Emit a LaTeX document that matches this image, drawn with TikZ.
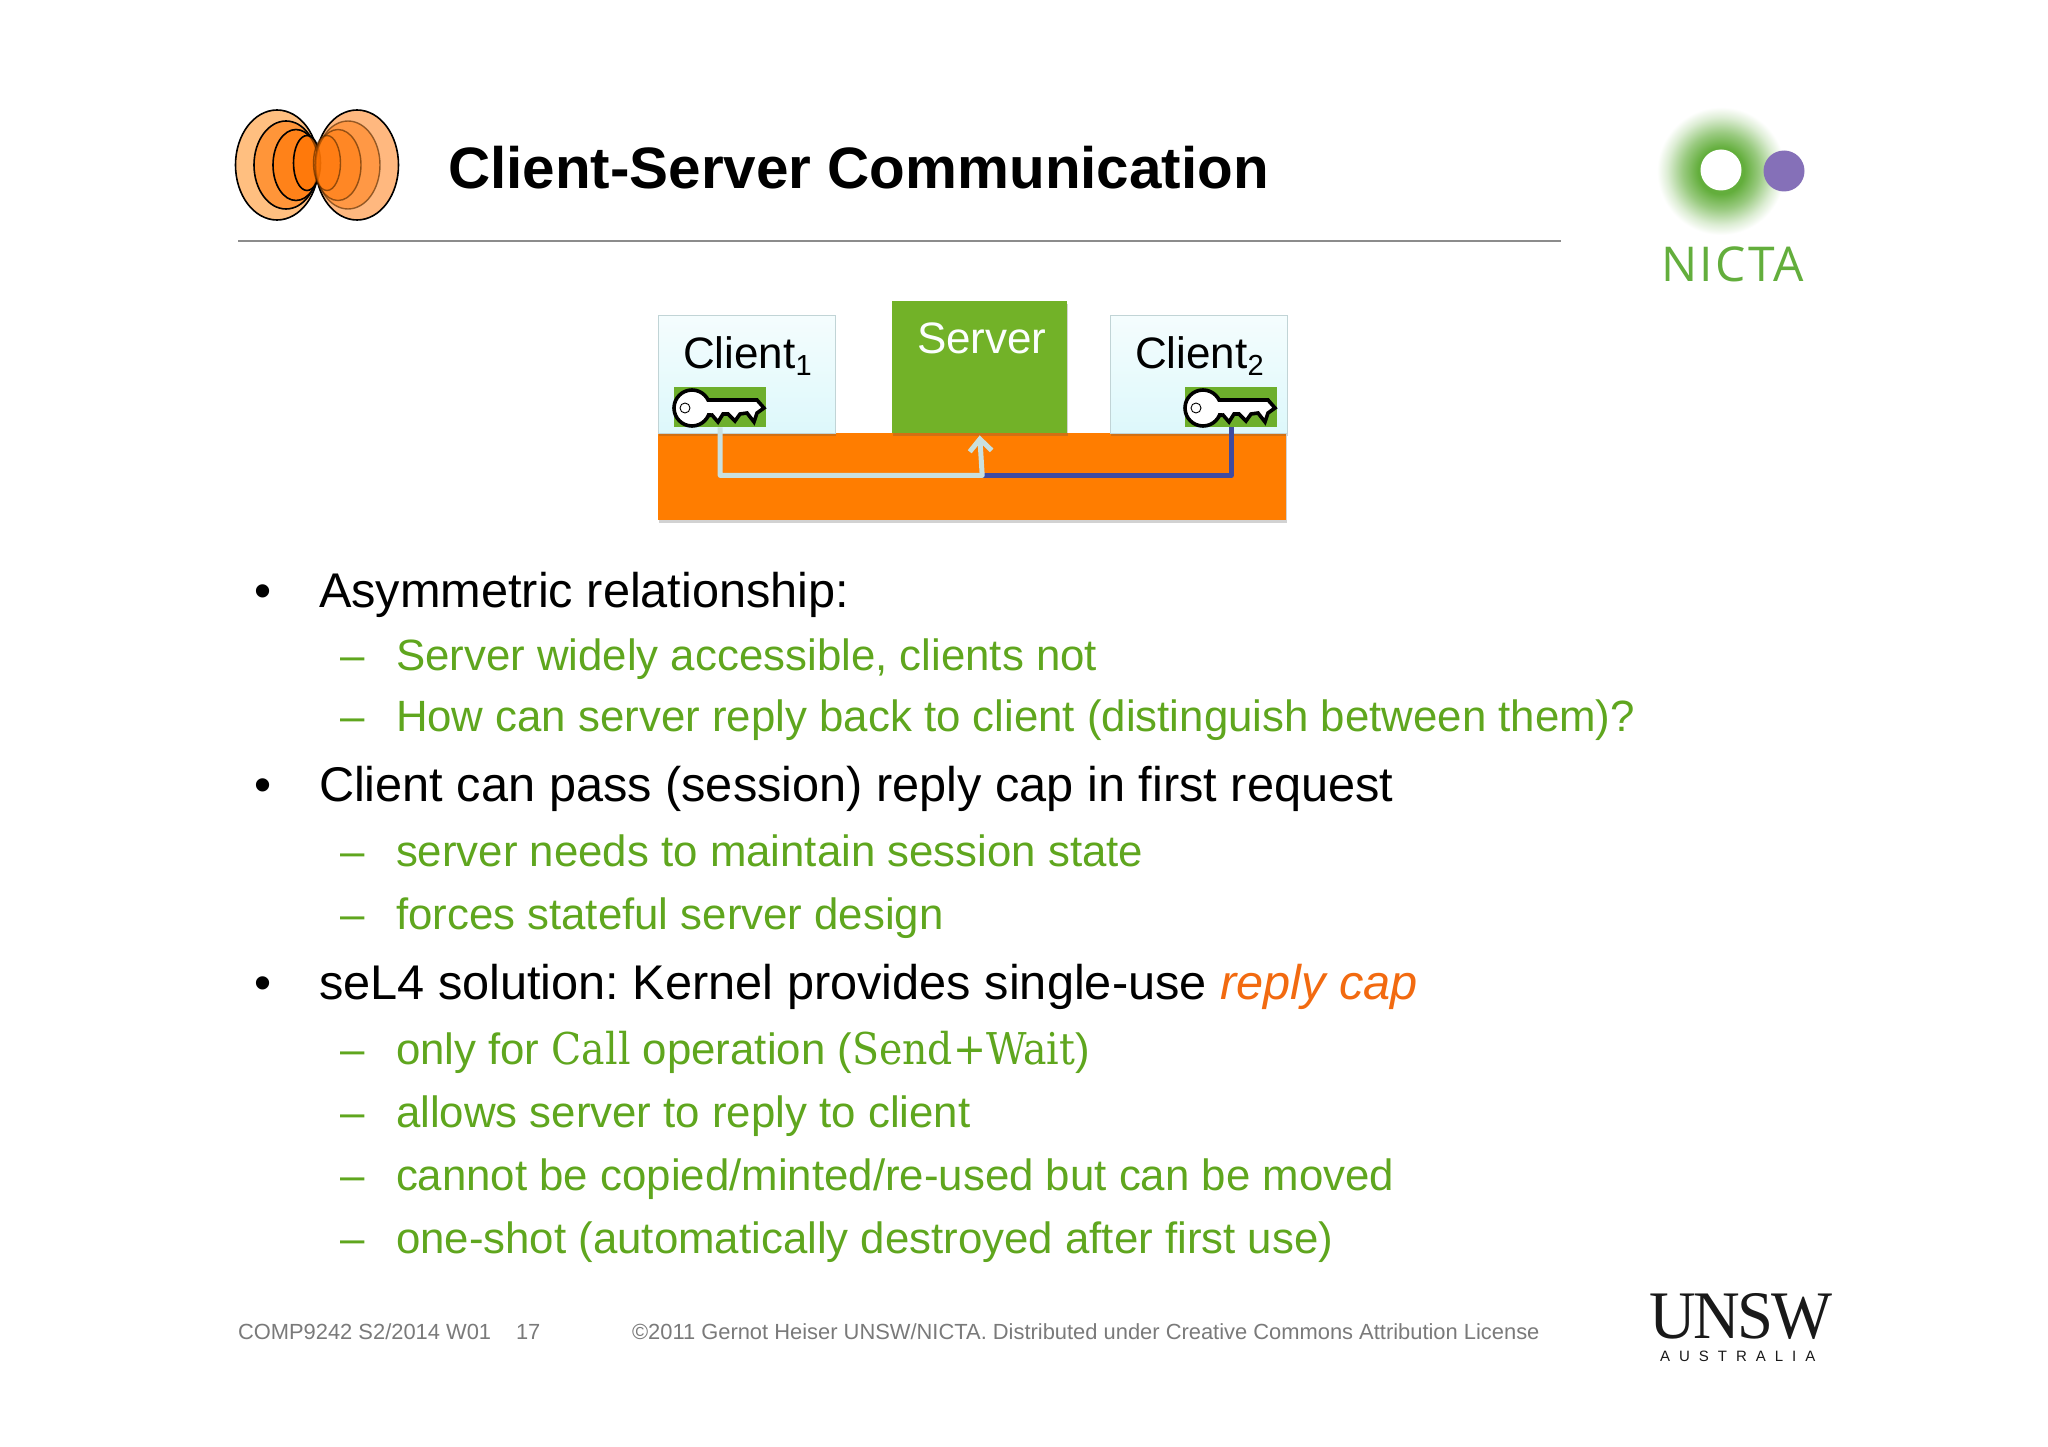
\documentclass[tikz,border=0pt]{standalone}
\usepackage{fontspec}
\setmainfont{Liberation Sans}
\frenchspacing
\newfontfamily\serifF{Liberation Serif}
\newfontfamily\nictaF{Open Sans}
\newfontfamily\monoF{DejaVu Serif}[FakeStretch=0.9]
\usetikzlibrary{shadows,arrows.meta,calc}
\definecolor{sgreen}{HTML}{5FA61E}
\definecolor{boxgreen}{HTML}{72B228}
\definecolor{kgreen}{HTML}{6DAF2C}
\definecolor{orbar}{HTML}{FF7D00}
\definecolor{lcyan}{HTML}{DDF8FB}
\definecolor{conn}{HTML}{C9E0DF}
\definecolor{bluec}{HTML}{3F4BA0}
\definecolor{nic}{HTML}{63AE3C}
\definecolor{pur}{HTML}{8570B8}
\definecolor{gtxt}{HTML}{7A7A7A}
\definecolor{rep}{HTML}{F26A10}
\pgfdeclareradialshading{glow}{\pgfpointorigin}{color(0bp)=(nic); color(9bp)=(nic); color(15bp)=(nic!65!white); color(21bp)=(nic!22!white); color(25bp)=(white); color(50bp)=(white)}
\tikzset{
  x=1pt,y=-1pt,
  shad/.style={drop shadow={shadow xshift=1pt,shadow yshift=-2.5pt,opacity=.25,fill=black!70}},
  client/.style={draw=lcyan!70!gray,line width=.8pt,top color=white!70!lcyan,bottom color=lcyan,shad,minimum width=177pt,minimum height=118pt,inner sep=0pt,anchor=north west},
  txt/.style={anchor=base west,inner sep=0pt,outer sep=0pt},
  main/.style={txt,font=\fontsize{48.7}{49}\selectfont},
  sub/.style={txt,font=\fontsize{43.8}{44}\selectfont,text=sgreen},
  foot/.style={txt,font=\fontsize{21.9}{22}\selectfont,text=gtxt},
  el/.style={draw=black,line width=1.6pt,fill=orange!90!red,fill opacity=.55},
  er/.style={draw=black!70!orange,line width=1.4pt,draw opacity=.6,fill=orange!90!red,fill opacity=.45},
  keybg/.style={fill=kgreen,minimum width=92pt,minimum height=40pt,inner sep=0pt,anchor=north west},
  pics/keyicon/.style={code={
    \draw[line width=3.6pt,fill=white,line join=miter]
      (10,-8) -- (65,-8) -- (72,0) -- (65,5) -- (62,14) -- (55,5) -- (48,6) -- (43,13) -- (36,6) -- (31,6) -- (26,14) -- (20,7) -- (10,9) -- cycle;
    \draw[line width=3.6pt,fill=white] (0,0) circle (18);
    \fill[white] (8,-6) rectangle (20,5);
    \draw[line width=.9pt,fill=white] (-7,0) circle (5);
  }}
}
\begin{document}
\begin{tikzpicture}
\useasboundingbox (0,0) rectangle (2048,1447);
\fill[white] (0,0) rectangle (2048,1447);
% left logo
\fill[orange!50!white,draw=black,line width=1.6pt] (277,165) ellipse (41.5 and 55);
\draw[el] (286,165) ellipse (32 and 44);
\draw[el] (296,165) ellipse (23 and 35.5);
\draw[el] (307,163) ellipse (13.5 and 27.5);
\draw[draw=black,line width=1.6pt,fill=orange!90!red,fill opacity=.5] (357,165) ellipse (41.5 and 55);
\draw[er] (348,165) ellipse (32 and 44);
\draw[er] (338,165) ellipse (23 and 35.5);
\draw[er] (327,163) ellipse (13.5 and 27.5);
% title
\node[txt,font=\fontsize{58.4}{58}\selectfont\bfseries] (title) at (448,189) {Client-Server Communication};
\coordinate (ruleA) at (238,241);
\coordinate (ruleB) at (1561,241);
\draw[line width=1.3pt,black!45] (ruleA) -- (ruleB);
% nicta
\shade[shading=glow] (1721,171) circle (64);
\fill[white] (1721,170) circle (20.5);
\fill[pur] (1784,171) circle (20.5);
\node[txt,font=\fontsize{48}{48}\nictaF\selectfont\addfontfeature{LetterSpace=5},text=nic] (nicta) at (1661,282) {NICTA};
% unsw
\node[txt,font=\fontsize{68}{68}\serifF\selectfont\addfontfeature{LetterSpace=-3.5,FakeStretch=0.95},text=black!90] (unsw) at (1649,1338) {UNSW};
\node[txt,font=\fontsize{15}{15}\selectfont\addfontfeature{LetterSpace=60},text=black!90] (aus) at (1660,1361) {AUSTRALIA};
% diagram
\node[fill=orbar,shad,minimum width=628pt,minimum height=87pt,inner sep=0pt,anchor=north west] (kernel) at (658,433) {};
\node[client] (c1) at (658,315) {};
\node[fill=boxgreen,shad,minimum width=175pt,minimum height=132pt,inner sep=0pt,anchor=north west] (server) at (892,301) {};
\node[client] (c2) at (1110,315) {};
\node[txt,font=\fontsize{44}{44}\selectfont] (c1t) at (683,368) {Client\raisebox{-7pt}{\fontsize{29}{29}\selectfont 1}};
\node[txt,font=\fontsize{44}{44}\selectfont] (c2t) at (1135,368) {Client\raisebox{-7pt}{\fontsize{29}{29}\selectfont 2}};
\node[txt,font=\fontsize{44}{44}\selectfont,text=white!88!lcyan] (st) at (917,353) {Server};
\node[keybg] (k1) at (674,387) {};
\node[keybg] (k2) at (1185,387) {};
\pic at (692,408) {keyicon};
\pic at (1203,408) {keyicon};
\coordinate (j1) at ($(k1.south)+(0,48)$);
\draw[bluec,line width=5pt,line join=round] (k2.south) |- (server.south |- j1);
\draw[conn,line width=5pt,line join=round,-{Straight Barb[length=12pt,width=22pt,line width=5pt]}] (k1.south) |- ($(server.south |- j1)+(2.5,0)$) -- ($(server.south)+(0,2)$);
% bullets
\node[main] (b1d) at (254,607) {•};
\node[main] (b1) at (319,607) {Asymmetric relationship:};
\node[sub] (s1d) at (340,670) {–}; \node[sub] (s1) at (396,670) {Server widely accessible, clients not};
\node[sub] (s2d) at (340,731) {–}; \node[sub] (s2) at (396,731) {How can server reply back to client (distinguish between them)?};
\node[main] (b2d) at (254,801) {•};
\node[main] (b2) at (319,801) {Client can pass (session) reply cap in first request};
\node[sub] (s3d) at (340,866) {–}; \node[sub] (s3) at (396,866) {server needs to maintain session state};
\node[sub] (s4d) at (340,929) {–}; \node[sub] (s4) at (396,929) {forces stateful server design};
\node[main] (b3d) at (254,999) {•};
\node[main] (b3) at (319,999) {seL4 solution: Kernel provides single-use \textit{\textcolor{rep}{reply cap}}};
\node[sub] (s5d) at (340,1064) {–}; \node[sub] (s5) at (396,1064) {only for {\monoF Call} operation ({\monoF Send+Wait})};
\node[sub] (s6d) at (340,1127) {–}; \node[sub] (s6) at (396,1127) {allows server to reply to client};
\node[sub] (s7d) at (340,1190) {–}; \node[sub] (s7) at (396,1190) {cannot be copied/minted/re-used but can be moved};
\node[sub] (s8d) at (340,1253) {–}; \node[sub] (s8) at (396,1253) {one-shot (automatically destroyed after first use)};
% footer
\node[foot] (f1) at (238,1339) {COMP9242 S2/2014 W01};
\node[foot] (f2) at (516,1339) {17};
\node[foot] (f3) at (632,1339) {©2011 Gernot Heiser UNSW/NICTA. Distributed under Creative Commons Attribution License};
\end{tikzpicture}
\end{document}
